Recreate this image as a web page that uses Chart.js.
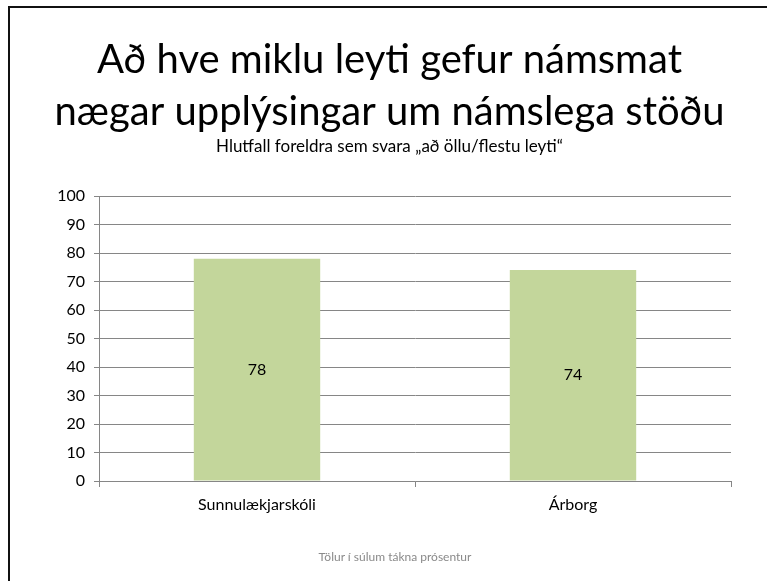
<!DOCTYPE html>
<html>
<head>
<meta charset="utf-8">
<script src="https://cdn.jsdelivr.net/npm/chart.js@4.4.1/dist/chart.umd.min.js"></script>
<style>
    html, body { margin: 0; padding: 0; background: #fff; overflow: hidden; }
    #wrap { position: relative; width: 767px; height: 581px; }
    #frame { position: absolute; left: 8px; top: 6px; width: 800px; height: 600px;
             border-left: 2px solid #111; border-top: 2px solid #111; pointer-events: none; }
    #note { position: absolute; left: 0; width: 790px; top: 549px; text-align: center;
            font: 12px Lato, sans-serif; color: #8a8a8a; }
</style>
</head>
<body>
<div id="wrap">
    <canvas id="chart" width="767" height="581"></canvas>
    <div id="frame"></div>
    <div id="note">Tölur í súlum tákna prósentur</div>
</div>
<script>
/////////////////////////////// data //////////////////////////////////

const categories = ['Sunnulækjarskóli', 'Árborg'];
const values = [78, 74];
const yTicks = [0, 10, 20, 30, 40, 50, 60, 70, 80, 90, 100];

const titleLines = ['Að hve miklu leyti gefur námsmat', 'nægar upplýsingar um námslega stöðu'];
const subtitleText = 'Hlutfall foreldra sem svara „að öllu/flestu leyti“';

/////////////////////////////// labels in bars //////////////////////////////////

const barValueLabels = {
    id: 'barValueLabels',
    afterDatasetsDraw(chart) {
        const ctx = chart.ctx;
        const meta = chart.getDatasetMeta(0);
        ctx.save();
        ctx.font = '16px Lato, sans-serif';
        ctx.fillStyle = '#000';
        ctx.textAlign = 'center';
        ctx.textBaseline = 'middle';
        meta.data.forEach((bar, i) => {
            const y = (bar.y + bar.base) / 2;
            ctx.fillText(String(values[i]), bar.x, y);
        });
        ctx.restore();
    }
};

var ctx = document.getElementById('chart').getContext('2d');

new Chart(ctx, {
    type: 'bar',
    data: {
        labels: categories,
        datasets: [{
            data: values,
            backgroundColor: '#c3d69b',
            borderWidth: 0,
            barPercentage: 0.4,
            categoryPercentage: 1
        }]
    },
    options: {
        responsive: false,
        animation: false,
        layout: {
            padding: { left: 48, right: 36, top: 0, bottom: 52 }
        },
        scales: {
            x: {
                offset: true,
                grid: {
                    offset: true,
                    drawOnChartArea: false,
                    color: '#868686',
                    tickLength: 6
                },
                border: { color: '#868686' },
                ticks: {
                    color: '#000',
                    font: { family: 'Lato, sans-serif', size: 16 },
                    padding: 8
                },
                afterFit: scale => { scale.height = 48; }
            },
            y: {
                min: 0,
                max: 100,
                afterBuildTicks: scale => { scale.ticks = yTicks.map(v => ({ value: v })); },
                grid: {
                    color: '#868686',
                    tickLength: 5
                },
                border: { color: '#868686' },
                ticks: {
                    color: '#000',
                    font: { family: 'Lato, sans-serif', size: 16 },
                    padding: 9
                },
                afterFit: scale => { scale.width = 51; }
            }
        },
        plugins: {
            legend: { display: false },
            tooltip: { enabled: false },
            title: {
                display: true,
                text: titleLines,
                color: '#000',
                font: { family: 'Lato, sans-serif', size: 40, weight: 'normal', lineHeight: 1.3 },
                padding: { top: 34, bottom: 0 }
            },
            subtitle: {
                display: true,
                text: subtitleText,
                color: '#000',
                font: { family: 'Lato, sans-serif', size: 17, lineHeight: 1.0 },
                padding: { top: 0, bottom: 41 }
            }
        }
    },
    plugins: [barValueLabels]
});
</script>
</body>
</html>
